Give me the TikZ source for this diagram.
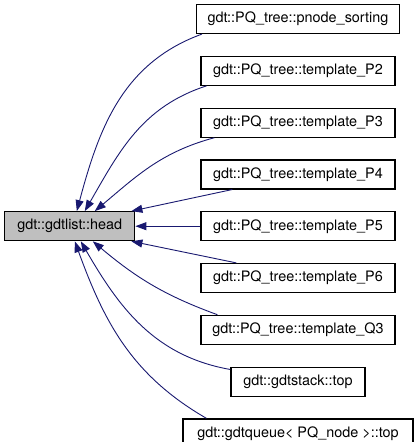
\documentclass[tikz,border=0pt]{standalone}
\usepackage{fontspec}
\setmainfont{TeX Gyre Heros}
\usetikzlibrary{positioning, arrows.meta}
\definecolor{edgeblue}{HTML}{191970}
\definecolor{headgray}{HTML}{BFBFBF}

\begin{document}
\begin{tikzpicture}[
    x=1pt, y=1pt,
    >={Triangle[length=11pt,width=8pt]},
    font=\fontsize{14.4}{17}\selectfont,
    node distance=21.6pt and 65pt,
    member/.style={
        draw,
        line width=1.2pt,
        minimum width=#1,
        minimum height=29pt,
        inner sep=0pt
    },
    member/.default=194pt,
    headbox/.style={member=130pt, fill=headgray},
    caller/.style={->, draw=edgeblue, line width=0.9pt}
]
\useasboundingbox (0,0) rectangle (418,-442);

\node[member=203pt] (sorting) at (298,-19) {gdt::PQ\_tree::pnode\_sorting};
\node[member, below=of sorting] (P2) {gdt::PQ\_tree::template\_P2};
\node[member, below=of P2] (P3) {gdt::PQ\_tree::template\_P3};
\node[member, below=of P3] (P4) {gdt::PQ\_tree::template\_P4};
\node[member, below=of P4] (P5) {gdt::PQ\_tree::template\_P5};
\node[member, below=of P5] (P6) {gdt::PQ\_tree::template\_P6};
\node[member, below=of P6] (Q3) {gdt::PQ\_tree::template\_Q3};
\node[member=134pt, below=of Q3] (stack) {gdt::gdtstack::top};
\node[member=230pt, below=of stack] (queue) {gdt::gdtqueue< PQ\_node >::top};
\node[headbox, left=of P5] (head) {gdt::gdtlist::head};

% calls above the head
\draw[caller] ([xshift=6pt]sorting.south west) to[out=200, in=75] ([xshift=7pt]head.north);
\draw[caller] ([xshift=6pt]P2.south west) to[out=198, in=60] ([xshift=15pt]head.north);
\draw[caller] ([xshift=14pt]P3.south west) to[out=195, in=40] ([xshift=25pt]head.north);
\draw[caller] ([xshift=32pt]P4.south west) -- ([xshift=-4pt]head.north east);
\draw[caller] (P5) -- (head);
% calls below the head
\draw[caller] ([xshift=36pt]P6.north west) -- ([xshift=-4pt]head.south east);
\draw[caller] ([xshift=17pt]Q3.north west) to[out=160, in=-40] ([xshift=23pt]head.south);
\draw[caller] ([yshift=-3pt]stack.north west) to[out=170, in=-60] ([xshift=11pt]head.south);
\draw[caller] ([xshift=24pt]queue.north west) to[out=150, in=-70] ([xshift=5pt]head.south);

\end{tikzpicture}
\end{document}
